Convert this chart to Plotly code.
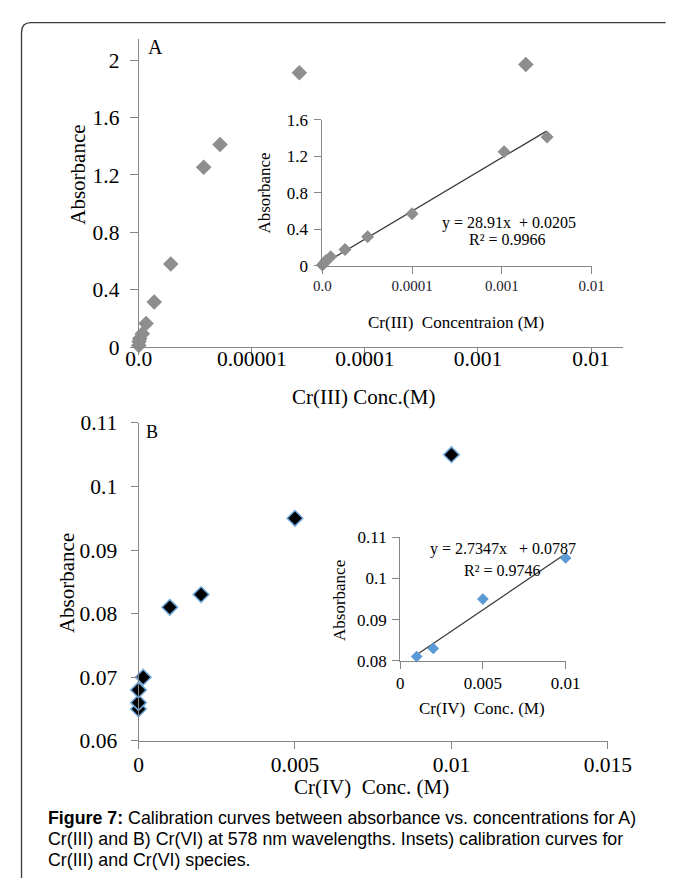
import plotly.graph_objects as go

W, H = 683, 891
def X(px): return px / W
def Y(py): return 1 - py / H

SERIF = "Liberation Serif, Times New Roman, serif"
SANS = "Liberation Sans, Arial, sans-serif"
AXC = "#868686"

# ---------------- data ----------------
# Panel A (main, log x axis)
a_main_x = [1.0e-6, 1.006e-6, 1.019e-6, 1.074e-6, 1.16e-6, 1.369e-6, 1.918e-6, 3.75e-6, 5.23e-6, 2.63e-5, 2.65e-3]
a_main_y = [0.012, 0.04, 0.06, 0.094, 0.165, 0.315, 0.58, 1.254, 1.412, 1.912, 1.97]
a_xticks = [1e-6, 1e-5, 1e-4, 1e-3, 1e-2]
a_xlabels = ["0.0", "0.00001", "0.0001", "0.001", "0.01"]
a_yticks = [0, 0.4, 0.8, 1.2, 1.6, 2.0]
a_ylabels = ["0", "0.4", "0.8", "1.2", "1.6", "2"]

# Panel A inset
ai_x = [1.0e-5, 1.05e-5, 1.1e-5, 1.24e-5, 1.79e-5, 3.2e-5, 1.0e-4, 1.06e-3, 3.2e-3]
ai_y = [0.01, 0.03, 0.06, 0.10, 0.18, 0.32, 0.57, 1.25, 1.41]
ai_trend_x = [1.0e-5, 3.15e-3]
ai_trend_y = [0.015, 1.475]
ai_xticks = [1e-5, 1e-4, 1e-3, 1e-2]
ai_xlabels = ["0.0", "0.0001", "0.001", "0.01"]
ai_yticks = [0, 0.4, 0.8, 1.2, 1.6]
ai_ylabels = ["0", "0.4", "0.8", "1.2", "1.6"]

# Panel B (main)
b_main_x = [0, 0, 0, 0.00015, 0.001, 0.002, 0.005, 0.01]
b_main_y = [0.065, 0.066, 0.068, 0.070, 0.081, 0.083, 0.095, 0.105]
b_xticks = [0, 0.005, 0.01, 0.015]
b_xlabels = ["0", "0.005", "0.01", "0.015"]
b_yticks = [0.06, 0.07, 0.08, 0.09, 0.10, 0.11]
b_ylabels = ["0.06", "0.07", "0.08", "0.09", "0.1", "0.11"]

# Panel B inset
bi_x = [0.001, 0.002, 0.005, 0.01]
bi_y = [0.081, 0.083, 0.095, 0.105]
bi_slope, bi_intercept = 2.7347, 0.0787
bi_trend_x = [0.001, 0.0102]
bi_xticks = [0, 0.005, 0.01]
bi_xlabels = ["0", "0.005", "0.01"]
bi_yticks = [0.08, 0.09, 0.10, 0.11]
bi_ylabels = ["0.08", "0.09", "0.1", "0.11"]

fig = go.Figure()

fig.add_trace(go.Scatter(x=a_main_x, y=a_main_y, mode="markers", xaxis="x", yaxis="y",
                         marker=dict(symbol="diamond", size=12, color="#8e8e8e"),
                         cliponaxis=False, showlegend=False))
fig.add_trace(go.Scatter(x=ai_trend_x, y=ai_trend_y, mode="lines", xaxis="x2", yaxis="y2",
                         line=dict(color="#3a3a3a", width=1.3), showlegend=False))
fig.add_trace(go.Scatter(x=ai_x, y=ai_y, mode="markers", xaxis="x2", yaxis="y2",
                         marker=dict(symbol="diamond", size=10, color="#8e8e8e"),
                         cliponaxis=False, showlegend=False))
fig.add_trace(go.Scatter(x=b_main_x, y=b_main_y, mode="markers", xaxis="x3", yaxis="y3",
                         marker=dict(symbol="diamond", size=12, color="#000000",
                                     line=dict(color="#6fa8dc", width=1.5)),
                         cliponaxis=False, showlegend=False))
fig.add_trace(go.Scatter(x=bi_trend_x, y=[bi_slope * v + bi_intercept for v in bi_trend_x],
                         mode="lines", xaxis="x4", yaxis="y4",
                         line=dict(color="#3a3a3a", width=1.3), showlegend=False))
fig.add_trace(go.Scatter(x=bi_x, y=bi_y, mode="markers", xaxis="x4", yaxis="y4",
                         marker=dict(symbol="diamond", size=9, color="#5b9bd5"),
                         cliponaxis=False, showlegend=False))

def ax(**kw):
    d = dict(showline=True, linecolor=AXC, linewidth=1, ticks="outside", ticklen=7,
             tickcolor=AXC, tickwidth=1, showgrid=False, zeroline=False,
             tickfont=dict(family=SERIF, size=21.5, color="black"), tickmode="array")
    d.update(kw)
    return d

fig.update_layout(
    width=W, height=H, margin=dict(l=0, r=0, t=0, b=0),
    paper_bgcolor="white", plot_bgcolor="rgba(0,0,0,0)",
    xaxis=ax(domain=[X(133), X(644.6)], type="log", range=[-6, -1.72], anchor="y",
             tickvals=a_xticks, ticktext=a_xlabels, ticklabelstandoff=-15),
    yaxis=ax(domain=[Y(345.5), Y(28.4)], range=[0, 2.15], anchor="x",
             tickvals=a_yticks, ticktext=a_ylabels, ticklen=8, ticklabelstandoff=6),
    xaxis2=ax(domain=[X(327), X(611.7)], type="log", range=[-5, -2], anchor="y2",
              tickvals=ai_xticks, ticktext=ai_xlabels, ticklabelstandoff=-1,
              tickfont=dict(family=SERIF, size=15, color="#1c1c2c")),
    yaxis2=ax(domain=[Y(262), Y(111.7)], range=[0, 1.6], anchor="x2",
              tickvals=ai_yticks, ticktext=ai_ylabels, ticklabelstandoff=3,
              tickfont=dict(family=SERIF, size=17, color="black")),
    xaxis3=ax(domain=[X(132.7), X(629)], range=[0, 0.015], anchor="y3",
              tickvals=b_xticks, ticktext=b_xlabels, ticklabelstandoff=-3),
    yaxis3=ax(domain=[Y(750), Y(423.3)], range=[0.06, 0.11], anchor="x3",
              tickvals=b_yticks, ticktext=b_ylabels, ticklabelstandoff=9),
    xaxis4=ax(domain=[X(409.3), X(584.3)], range=[0, 0.01], anchor="y4",
              tickvals=bi_xticks, ticktext=bi_xlabels,
              tickfont=dict(family=SERIF, size=17, color="black")),
    yaxis4=ax(domain=[Y(667.7), Y(541)], range=[0.08, 0.11], anchor="x4",
              tickvals=bi_yticks, ticktext=bi_ylabels, ticklabelstandoff=2,
              tickfont=dict(family=SERIF, size=17, color="black")),
)

def txt(s, px, py, size, family=SERIF, angle=0, xanchor="center", yanchor="middle", color="black"):
    fig.add_annotation(text=s, x=X(px), y=Y(py), xref="paper", yref="paper",
                       showarrow=False, textangle=angle, xanchor=xanchor, yanchor=yanchor,
                       font=dict(family=family, size=size, color=color))

NB = "\u00a0"
txt("A", 141, 37, 20, xanchor="left")
txt("B", 139, 433, 18, xanchor="left")
txt("Absorbance", 69, 168, 21, angle=-90)
txt("Cr(III) Conc.(M)", 371, 397, 21)
txt("Absorbance", 266, 187, 17, angle=-90)
txt("Cr(III)" + NB + NB + "Concentraion (M)", 468, 320, 17)
txt("y = 28.91x" + NB + NB + "+ 0.0205", 524, 218, 16)
txt("R² = 0.9966", 523, 235, 16)
txt("Absorbance", 57, 588, 21, angle=-90)
txt("Cr(IV)" + NB + NB + "Conc. (M)", 379, 797, 21)
txt("Absorbance", 345, 606, 17, angle=-90)
txt("Cr(IV)" + NB + NB + "Conc. (M)", 496, 717, 17)
txt("y = 2.7347x" + NB + NB + NB + "+ 0.0787", 518, 553, 16)
txt("R² = 0.9746", 518, 575, 16)

txt("<b>Figure 7:</b> Calibration curves between absorbance vs. concentrations for A)", 35, 829, 17.8, family=SANS, xanchor="left")
txt("Cr(III) and B) Cr(VI) at 578 nm wavelengths. Insets) calibration curves for", 35, 851, 17.8, family=SANS, xanchor="left")
txt("Cr(III) and Cr(VI) species.", 35, 873, 17.8, family=SANS, xanchor="left")

# frame with rounded top-left corner
path = "M {0},{1} L {0},{2} Q {0},{3} {4},{3} L {5},{3}".format(X(9), Y(891), Y(22), Y(12), X(19), X(690))
fig.add_shape(type="path", path=path, xref="paper", yref="paper",
              line=dict(color="#3a3a3a", width=1.3))

fig.write_html("out.html", config={"displayModeBar": False},
               post_script="document.body.style.margin='0';document.body.style.overflow='hidden';")
